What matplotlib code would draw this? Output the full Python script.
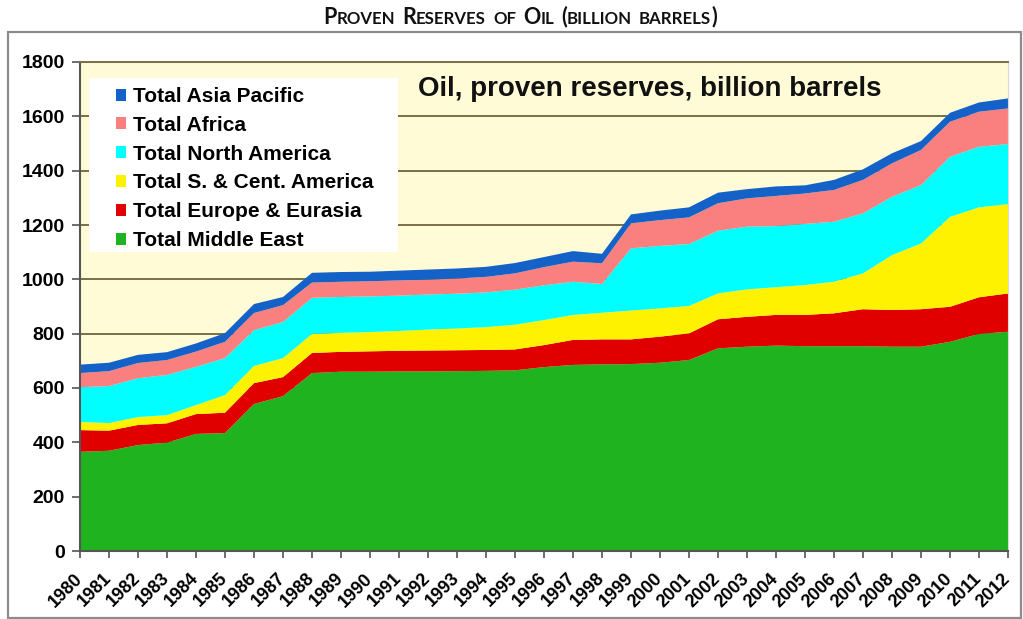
import matplotlib
matplotlib.use("Agg")
import matplotlib.pyplot as plt
from matplotlib.patches import Rectangle, Patch
from matplotlib.offsetbox import TextArea, HPacker, AnnotationBbox
from matplotlib import font_manager
import numpy as np

plt.rcParams['font.family'] = ['Liberation Sans', 'DejaVu Sans']

years = list(range(1980, 2013))

middle_east = [365, 369, 390, 399, 431, 434, 541, 570, 655, 660, 660, 661, 661, 662, 663, 665,
               677, 685, 687, 688, 693, 703, 746, 752, 756, 754, 754, 754, 752, 752, 770, 799, 807]
europe_eurasia = [80, 74, 74, 71, 73, 75, 77, 70, 74, 73, 75, 76, 77, 77, 77, 77,
                  81, 92, 92, 91, 96, 98, 107, 110, 113, 115, 121, 136, 135, 138, 129, 135, 141]
s_cent_america = [30, 28, 29, 30, 33, 65, 63, 70, 70, 70, 71, 73, 77, 80, 84, 91,
                  92, 92, 98, 106, 104, 101, 95, 101, 102, 110, 116, 132, 202, 242, 331, 331, 329]
north_america = [128, 136, 143, 148, 141, 136, 132, 133, 133, 132, 131, 130, 129, 128, 128, 129,
                 128, 122, 106, 229, 230, 228, 231, 231, 225, 225, 221, 221, 215, 215, 221, 223, 221]
africa = [52, 55, 56, 55, 56, 60, 63, 62, 56, 56, 56, 56, 55, 56, 57, 60,
          67, 74, 76, 92, 95, 98, 101, 104, 111, 112, 117, 123, 123, 129, 129, 129, 131]
asia_pacific = [31, 31, 30, 29, 30, 32, 33, 30, 36, 36, 35, 36, 37, 37, 37, 38,
                37, 39, 35, 33, 35, 37, 39, 34, 35, 30, 37, 39, 37, 33, 33, 34, 37]

series_labels = ["Total Middle East", "Total Europe & Eurasia", "Total S. & Cent. America",
                 "Total North America", "Total Africa", "Total Asia Pacific"]
colors = ["#1fb41f", "#e00000", "#fff200", "#00ffff", "#fa8080", "#1462c8"]
y_ticks = [0, 200, 400, 600, 800, 1000, 1200, 1400, 1600, 1800]

W, H = 1023, 619
fig = plt.figure(figsize=(W / 100, H / 100), dpi=100)
fig.patch.set_facecolor("white")

# outer frame
fig.patches.append(Rectangle((8 / W, 1 - 618 / H), (1021 - 8) / W, (618 - 32) / H,
                             transform=fig.transFigure, fill=False,
                             edgecolor="#8c8c8c", linewidth=1.6, zorder=0))

ax = fig.add_axes([80 / W, 1 - 551 / H, (1008 - 80) / W, (551 - 62) / H])
ax.set_facecolor("#fffbd6")

ax.stackplot(years, middle_east, europe_eurasia, s_cent_america, north_america,
             africa, asia_pacific, colors=colors, labels=series_labels,
             linewidth=0, zorder=2)

ax.set_xlim(1980, 2012)
ax.set_ylim(0, 1800)
ax.set_yticks(y_ticks)
ax.set_yticklabels([str(v) for v in y_ticks], fontsize=14, fontweight="bold")
ax.set_xticks(years)
ax.set_xticklabels([str(y) for y in years], fontsize=13, fontweight="bold",
                   rotation=45, ha="right", va="center", rotation_mode="anchor")
ax.tick_params(axis="y", direction="out", length=6, width=1.2, color="#555555", pad=5)
ax.tick_params(axis="x", direction="out", length=5, width=1.2, color="#555555", pad=13)

ax.set_axisbelow(True)
ax.grid(axis="y", color="#7a7048", linewidth=1.4, zorder=1)
ax.grid(axis="x", visible=False)
for s in ["left", "bottom"]:
    ax.spines[s].set_color("#555555")
    ax.spines[s].set_linewidth(1.5)
ax.spines["top"].set_color("#7a7048")
ax.spines["top"].set_linewidth(1.4)
ax.spines["right"].set_color("#d8d8d8")
ax.spines["right"].set_linewidth(0.8)

# legend background box
ax.add_patch(Rectangle(((89 - 80) / 928, (551 - 252) / 489), (398 - 89) / 928, (252 - 78) / 489,
                       transform=ax.transAxes, facecolor="white", edgecolor="none", zorder=3))
handles = [Patch(facecolor=c, edgecolor="none") for c in colors][::-1]
leg = ax.legend(handles, series_labels[::-1], loc="upper left",
                bbox_to_anchor=((116 - 80) / 928, (551 - 87) / 489),
                frameon=False, borderaxespad=0, borderpad=0,
                handlelength=0.5, handleheight=0.5, handletextpad=0.3,
                labelspacing=0.47, prop={"weight": "bold", "size": 15})
leg.set_zorder(4)

ax.text((650 - 80) / 928, (551 - 89) / 489, "Oil, proven reserves, billion barrels",
        transform=ax.transAxes, ha="center", va="center", fontsize=20,
        fontweight="bold", color="#111111", zorder=4)

# small-caps title
available = {f.name for f in font_manager.fontManager.ttflist}
tfam = "Liberation Sans Narrow" if "Liberation Sans Narrow" in available else "Lato"
if tfam == "Lato":
    big, small = 15.5, 12.1
    gap = 5
else:
    big, small = 15.5, 12.0
    gap = 4

def ta(s, size):
    return TextArea(s, textprops=dict(fontsize=size, fontweight="bold", family=tfam, color="#111111"))

words = [
    [("P", big), ("ROVEN", small)],
    [("R", big), ("ESERVES", small)],
    [("OF", small)],
    [("O", big), ("IL", small)],
    [("(", big), ("BILLION", small)],
    [("BARRELS", small), (")", big)],
]
word_boxes = [HPacker(children=[ta(s, z) for s, z in w], sep=0, pad=0, align="baseline")
              for w in words]
title_box = HPacker(children=word_boxes, sep=gap, pad=0, align="baseline")
ab = AnnotationBbox(title_box, (520, H - 17), xycoords="figure pixels",
                    frameon=False, box_alignment=(0.5, 0.5))
fig.add_artist(ab)

fig.savefig("out.png", dpi=100)
